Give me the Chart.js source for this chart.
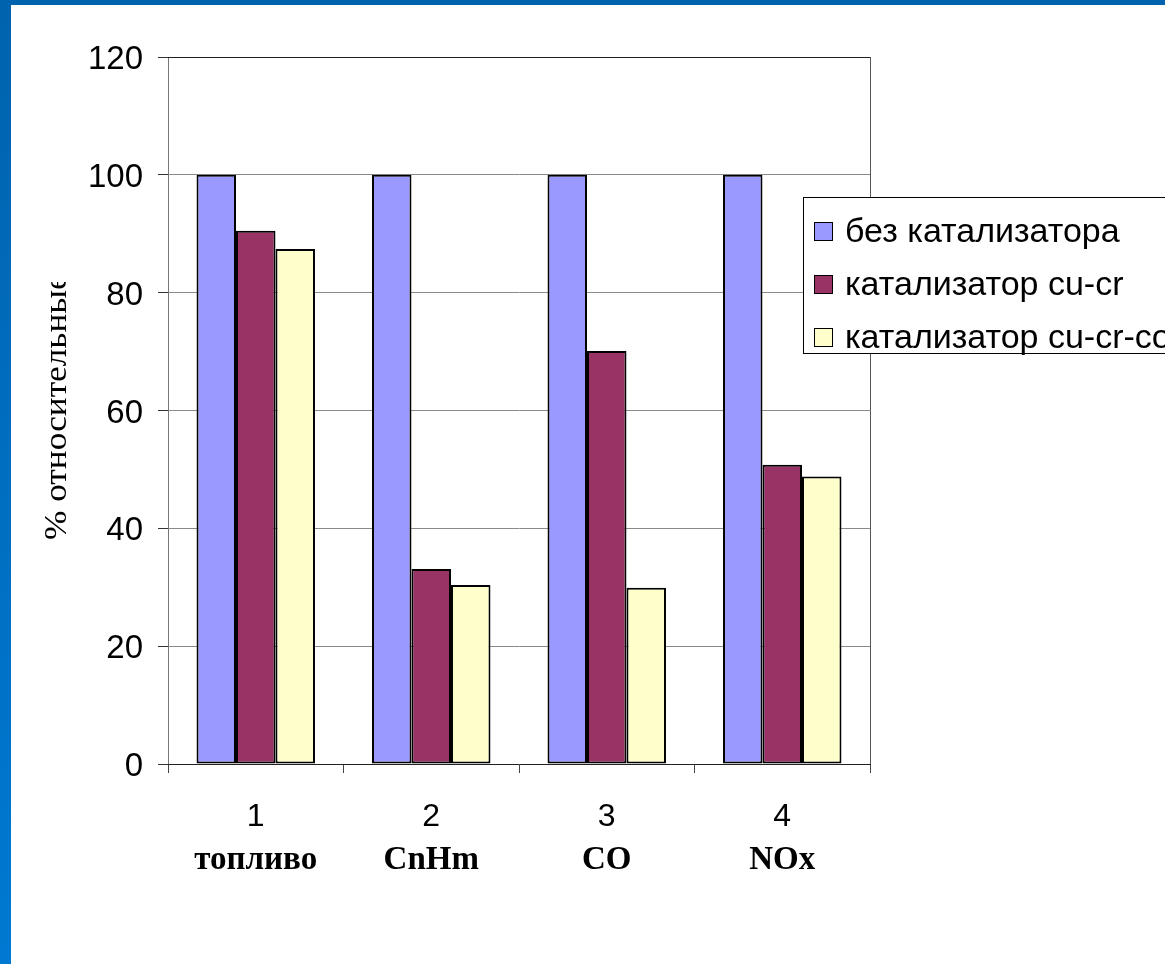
<!DOCTYPE html>
<html>
<head>
<meta charset="utf-8">
<script src="https://cdn.jsdelivr.net/npm/chart.js@4/dist/chart.umd.min.js"></script>
<style>
  html, body { margin: 0; padding: 0; width: 1165px; height: 964px; overflow: hidden; }
  body { background: linear-gradient(to bottom, #0063ae, #0079d2); position: relative; }
  #panel { position: absolute; left: 11px; top: 5px; width: 1154px; height: 959px; background: #fff; }
  #wrap { position: absolute; left: 0; top: 0; width: 1165px; height: 964px; }
  #legend {
    position: absolute; left: 803px; top: 197px; width: 420px; height: 155px;
    border: 1px solid #000; background: #fff; white-space: nowrap;
    font-family: "Liberation Sans", Arial, sans-serif; font-size: 34px; color: #000;
  }
  #legend .row { position: absolute; left: 10px; height: 40px; line-height: 40px; }
  #legend .box { display: inline-block; width: 17px; height: 17px; border: 1.5px solid #000; vertical-align: middle; margin-right: 12px; position: relative; top: -2px; }
</style>
</head>
<body>
<div id="panel"></div>
<div id="wrap"><canvas id="chart" width="1165" height="964"></canvas></div>
<div id="legend"></div>
<script>
const numbers = ["1", "2", "3", "4"];
const names = ["топливо", "CnHm", "CO", "NOx"];
const seriesNames = ["без катализатора", "катализатор cu-cr", "катализатор cu-cr-co"];
const noCatalyst = [100, 100, 100, 100];
const cuCr = [90.5, 33.1, 70.1, 50.8];
const cuCrCo = [87.4, 30.4, 29.9, 48.8];
const colors = ['#9999ff', '#993366', '#ffffcc'];
const yTitle = '% относительные';

const series = [noCatalyst, cuCr, cuCrCo];

const frame = {
    id: 'frame',
    afterDraw(chart) {
        const a = chart.chartArea, ctx = chart.ctx;
        ctx.save();
        ctx.lineWidth = 1;
        ctx.strokeStyle = '#222';
        ctx.beginPath();
        ctx.moveTo(a.left, Math.round(a.top) + 0.5);
        ctx.lineTo(a.right, Math.round(a.top) + 0.5);
        ctx.stroke();
        ctx.strokeStyle = '#555';
        ctx.beginPath();
        ctx.moveTo(Math.round(a.right) + 0.5, a.top);
        ctx.lineTo(Math.round(a.right) + 0.5, a.bottom);
        ctx.stroke();
        ctx.restore();
    }
};

// vertical axis title, cut off at the top like in the original slide
const axisTitle = {
    id: 'axisTitle',
    afterDraw(chart) {
        const ctx = chart.ctx;
        ctx.save();
        ctx.beginPath();
        ctx.rect(0, 282, 120, 300);
        ctx.clip();
        ctx.font = '32px "Liberation Serif", "Times New Roman", serif';
        ctx.fillStyle = '#000';
        const w = ctx.measureText('% относительны').width;
        const sx = 250 / w;
        ctx.translate(66, 540);
        ctx.rotate(-Math.PI / 2);
        ctx.scale(sx, 1);
        ctx.textBaseline = 'alphabetic';
        ctx.fillText(yTitle, 0, 0);
        ctx.restore();
    }
};

const config = {
    type: 'bar',
    data: {
        labels: numbers,
        datasets: series.map((d, i) => ({
            label: seriesNames[i],
            data: d,
            backgroundColor: colors[i],
            borderColor: '#000',
            borderWidth: 2,
            borderSkipped: false,
            categoryPercentage: 0.675,
            barPercentage: 1
        }))
    },
    options: {
        responsive: false,
        animation: false,
        layout: { padding: { left: 0, top: 57, right: 295, bottom: 65 } },
        plugins: {
            legend: { display: false },
            tooltip: { enabled: false }
        },
        scales: {
            y: {
                min: 0, max: 120,
                ticks: {
                    stepSize: 20, padding: 15, color: '#000', labelOffset: 3,
                    font: { family: '"Liberation Sans", Arial, sans-serif', size: 33 }
                },
                grid: { color: '#8a8a8a', tickColor: '#333', tickLength: 10 },
                border: { color: '#777' },
                afterFit(s) { s.width = 168; }
            },
            x: {
                weight: 0,
                ticks: {
                    padding: 25, color: '#000',
                    font: { family: '"Liberation Sans", Arial, sans-serif', size: 32 }
                },
                grid: { drawOnChartArea: false, tickLength: 9, tickColor: '#444', offset: true },
                border: { color: '#222' },
                afterFit(s) { s.height = 75; }
            },
            x2: {
                type: 'category',
                position: 'bottom',
                labels: names,
                offset: true,
                weight: 1,
                ticks: {
                    padding: 2, color: '#000',
                    font: { family: '"Liberation Serif", "Times New Roman", serif', size: 33, weight: 'bold' }
                },
                grid: { display: false, drawTicks: false },
                border: { display: false },
                afterFit(s) { s.height = 60; }
            }
        }
    },
    plugins: [frame, axisTitle]
};

var chart = new Chart(document.getElementById('chart'), config);

// legend built from the datasets
const legend = document.getElementById('legend');
chart.data.datasets.forEach((ds, i) => {
    const row = document.createElement('div');
    row.className = 'row';
    row.style.top = (12 + i * 53) + 'px';
    row.innerHTML = '<span class="box" style="background:' + ds.backgroundColor + '"></span>' + ds.label;
    legend.appendChild(row);
});
</script>
</body>
</html>
